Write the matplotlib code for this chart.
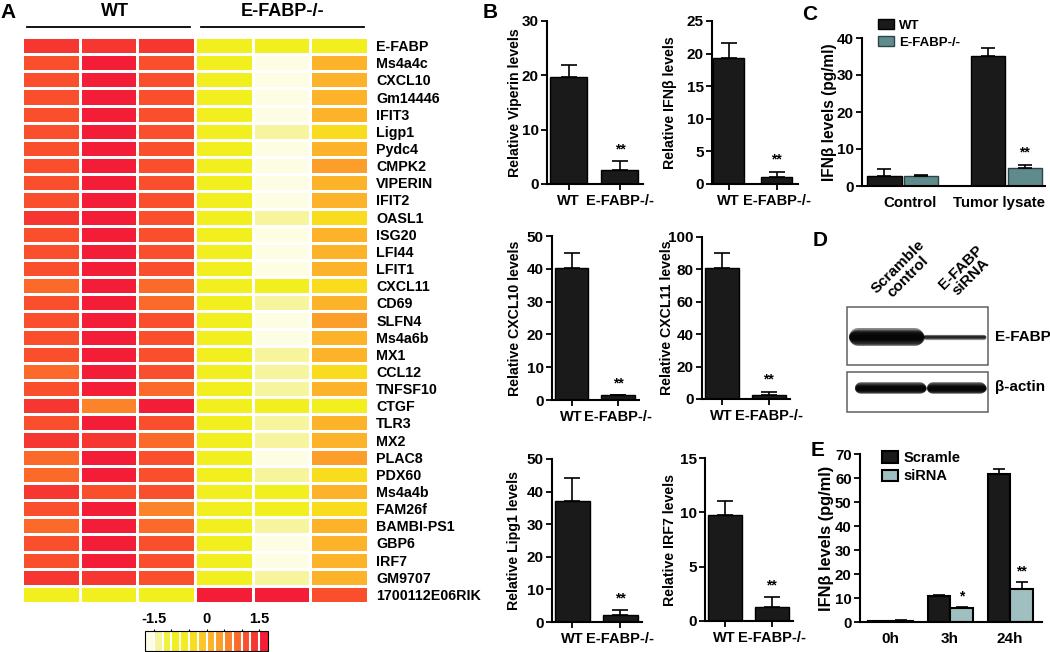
import numpy as np
import matplotlib
matplotlib.use("Agg")
import matplotlib.pyplot as plt
from matplotlib.colors import ListedColormap, BoundaryNorm
from matplotlib.cm import ScalarMappable
from matplotlib.lines import Line2D
from matplotlib.patches import Rectangle

plt.rcParams["font.family"] = ["Liberation Sans", "DejaVu Sans"]
plt.rcParams["font.weight"] = "bold"
plt.rcParams["axes.labelweight"] = "bold"

W, H = 1050, 652

# ---------------- data ----------------
# A: heatmap (z-scores), 3 WT replicates and 3 E-FABP-/- replicates
genes = ["E-FABP", "Ms4a4c", "CXCL10", "Gm14446", "IFIT3", "Ligp1", "Pydc4", "CMPK2",
         "VIPERIN", "IFIT2", "OASL1", "ISG20", "LFI44", "LFIT1", "CXCL11", "CD69",
         "SLFN4", "Ms4a6b", "MX1", "CCL12", "TNFSF10", "CTGF", "TLR3", "MX2", "PLAC8",
         "PDX60", "Ms4a4b", "FAM26f", "BAMBI-PS1", "GBP6", "IRF7", "GM9707",
         "1700112E06RIK"]
wt_z = [[1.3, 1.3, 1.3], [1.1, 1.6, 1.1], [1.1, 1.6, 1.1], [1.1, 1.6, 1.1],
        [1.1, 1.6, 1.1], [1.1, 1.6, 1.1], [1.1, 1.6, 1.1], [1.1, 1.6, 1.1],
        [1.1, 1.6, 1.1], [1.1, 1.6, 1.1], [1.3, 1.6, 1.1], [1.1, 1.6, 1.1],
        [1.1, 1.6, 1.1], [1.1, 1.6, 1.1], [0.9, 1.6, 0.9], [1.1, 1.6, 0.9],
        [1.1, 1.6, 1.1], [1.1, 1.6, 1.1], [1.1, 1.6, 1.1], [0.9, 1.6, 1.1],
        [1.1, 1.6, 0.9], [1.3, 0.6, 1.6], [1.1, 1.6, 1.1], [1.3, 1.3, 0.9],
        [0.9, 1.6, 1.1], [0.9, 1.6, 1.1], [1.3, 1.1, 1.1], [1.1, 1.6, 0.6],
        [0.9, 1.6, 0.9], [1.1, 1.6, 1.1], [1.1, 1.6, 1.1], [1.3, 1.3, 1.1],
        [-0.9, -0.9, -0.9]]
ko_z = [[-0.9, -0.9, -0.9], [-0.9, -1.6, 0.1], [-0.9, -1.6, 0.1], [-0.9, -1.6, 0.1],
        [-0.9, -1.6, 0.1], [-0.9, -1.4, -0.4], [-0.9, -1.6, 0.1], [-0.9, -1.6, 0.4],
        [-0.9, -1.6, 0.1], [-0.9, -1.6, 0.1], [-0.9, -1.4, -0.4], [-0.9, -1.6, 0.1],
        [-0.9, -1.6, 0.1], [-0.9, -1.6, 0.1], [-0.9, -0.9, -0.4], [-0.9, -1.4, 0.1],
        [-0.9, -1.6, 0.4], [-0.9, -1.6, 0.1], [-0.9, -1.4, 0.1], [-0.9, -1.4, -0.4],
        [-0.9, -1.4, 0.1], [-0.9, -0.9, -0.9], [-0.9, -1.4, 0.1], [-0.9, -1.4, 0.1],
        [-0.9, -1.6, 0.4], [-0.9, -1.4, -0.4], [-0.9, -0.9, 0.1], [-0.9, -0.9, -0.4],
        [-0.9, -1.4, 0.1], [-0.9, -1.6, 0.1], [-0.9, -1.6, 0.1], [-0.9, -1.4, 0.1],
        [1.6, 1.6, 1.1]]

# B: relative mRNA levels (WT, E-FABP-/-)
b_groups = ["WT", "E-FABP-/-"]
viperin_mean = [19.7, 2.6]
viperin_err = [2.2, 1.6]
ifnb_mean = [19.4, 1.1]
ifnb_err = [2.3, 0.8]
cxcl10_mean = [40.1, 1.5]
cxcl10_err = [4.8, 0.0]
cxcl11_mean = [80.7, 2.5]
cxcl11_err = [9.6, 2.0]
lipg1_mean = [37.2, 2.1]
lipg1_err = [6.9, 1.6]
irf7_mean = [9.8, 1.3]
irf7_err = [1.2, 0.9]

# C: IFNb ELISA
c_groups = ["Control", "Tumor lysate"]
c_wt_mean = [2.8, 35.1]
c_wt_err = [1.7, 2.2]
c_ko_mean = [2.8, 4.8]
c_ko_err = [0.2, 0.8]

# D: western blot band strength (Scramble control, E-FABP siRNA)
blot_lanes = ["Scramble\ncontrol", "E-FABP\nsiRNA"]
efabp_band = [1.0, 0.3]
actin_band = [0.85, 0.85]

# E: IFNb after knock-down
e_times = ["0h", "3h", "24h"]
e_scr_mean = [0.4, 10.8, 61.6]
e_scr_err = [0.1, 0.4, 2.3]
e_sirna_mean = [0.6, 5.8, 13.7]
e_sirna_err = [0.2, 0.4, 3.0]
e_stars = ["", "*", "**"]

heat_colors = ["#fdfde4", "#f6f49c", "#f2f03a", "#f1ef1e", "#f3ec1e", "#f9dc1e", "#fcc626",
               "#fcb32a", "#fb9e2a", "#fb842a", "#fb6a2a", "#f94f2c", "#f63630", "#f31d38"]

fig = plt.figure(figsize=(W / 100, H / 100), dpi=100)


def px_axes(left, top, right, bottom):
    return fig.add_axes([left / W, 1 - bottom / H, (right - left) / W, (bottom - top) / H])


def prism_style(ax, size):
    for side in ["top", "right"]:
        ax.spines[side].set_visible(False)
    for side in ["left", "bottom"]:
        ax.spines[side].set_linewidth(1.5)
    ax.tick_params(axis="both", direction="out", length=4, width=1.3, labelsize=size, pad=2)


# ---------------- A: heatmap ----------------
cmap = ListedColormap(heat_colors)
norm = BoundaryNorm(np.linspace(-1.75, 1.75, 15), cmap.N)
data = np.hstack([np.array(wt_z), np.array(ko_z)])

ax = px_axes(22, 37, 368, 603)
ax.pcolormesh(data, cmap=cmap, norm=norm, edgecolors="white", linewidth=0.8)
ax.set_xlim(0, 6)
ax.set_ylim(len(genes), 0)
ax.yaxis.tick_right()
ax.set_yticks(np.arange(len(genes)) + 0.5, genes)
ax.tick_params(axis="y", length=0, pad=6, labelsize=10.3)
ax.set_xticks([])
for s in ax.spines.values():
    s.set_visible(False)

fig.text(115 / W, 1 - 12 / H, "WT", ha="center", va="center", fontsize=13)
fig.text(283 / W, 1 - 12 / H, "E-FABP-/-", ha="center", va="center", fontsize=13)
fig.add_artist(Line2D([27 / W, 190 / W], [1 - 27 / H] * 2, color="black", lw=1.3))
fig.add_artist(Line2D([201 / W, 364 / W], [1 - 27 / H] * 2, color="black", lw=1.3))

cax = px_axes(145, 631, 268, 651)
cb = fig.colorbar(ScalarMappable(norm=norm, cmap=cmap), cax=cax, orientation="horizontal",
                  drawedges=True)
cb.dividers.set_color("white")
cb.dividers.set_linewidth(1.5)
cb.outline.set_linewidth(0.8)
cax.xaxis.set_ticks_position("top")
cb.set_ticks([-1.5, 0, 1.5], labels=["-1.5", "0", "1.5"])
cax.set_xticks(np.arange(-1.5, 1.6, 0.5), minor=True)
cax.tick_params(which="both", direction="inout", length=3, width=0.8, labelsize=10.5, pad=2)


# ---------------- B: six small bar charts ----------------
def bar_panel(box, means, errs, ymax, ystep, ylabel, label_x, xlim=(-0.42, 1.45), width=0.72):
    ax = px_axes(*box)
    x = np.arange(len(means))
    ax.bar(x, means, width=width, color="#1a1a1a", edgecolor="black", linewidth=1)
    ax.errorbar(x, means, yerr=[np.zeros(len(errs)), errs], fmt="none", ecolor="black",
                elinewidth=1.2, capsize=6, capthick=1.2)
    ax.text(x[1], means[1] + errs[1] + ymax * 0.03, "**", ha="center", va="bottom", fontsize=10)
    ax.set_xlim(*xlim)
    ax.set_ylim(0, ymax)
    ax.set_yticks(np.arange(0, ymax + 1, ystep))
    ax.set_xticks(x, b_groups)
    prism_style(ax, 11)
    ax.tick_params(axis="x", labelsize=10.5, pad=3)
    ax.set_ylabel(ylabel, fontsize=10.2)
    ax.yaxis.set_label_coords((label_x - box[0]) / (box[2] - box[0]), 0.5)
    return ax


bar_panel((547, 21, 643, 184), viperin_mean, viperin_err, 30, 10, "Relative Viperin levels", 522)
bar_panel((712, 21, 798, 184), ifnb_mean, ifnb_err, 25, 5, "Relative IFNβ levels", 677,
          xlim=(-0.35, 1.45), width=0.65)
bar_panel((552, 236, 639, 400), cxcl10_mean, cxcl10_err, 50, 10, "Relative CXCL10 levels", 522)
bar_panel((702, 237, 790, 399), cxcl11_mean, cxcl11_err, 100, 20, "Relative CXCL11 levels", 674)
bar_panel((552, 459, 642, 622), lipg1_mean, lipg1_err, 50, 10, "Relative Lipg1 levels", 521)
bar_panel((705, 458, 793, 621), irf7_mean, irf7_err, 15, 5, "Relative IRF7 levels", 677)

# ---------------- C: grouped bars ----------------
box = (862, 38, 1045, 186)
ax = px_axes(*box)
x = np.arange(len(c_groups))
ax.bar(x - 0.175, c_wt_mean, width=0.33, color="#1a1a1a", edgecolor="black", lw=1, label="WT")
ax.bar(x + 0.175, c_ko_mean, width=0.33, color="#5f8b8c", edgecolor="#2e4444", lw=1,
       label="E-FABP-/-")
ax.errorbar(x - 0.175, c_wt_mean, yerr=[np.zeros(2), c_wt_err], fmt="none", ecolor="black",
            elinewidth=1.2, capsize=5, capthick=1.2)
ax.errorbar(x + 0.175, c_ko_mean, yerr=[np.zeros(2), c_ko_err], fmt="none", ecolor="black",
            elinewidth=1.2, capsize=5, capthick=1.2)
ax.text(1.175, c_ko_mean[1] + c_ko_err[1] + 1.5, "**", ha="center", va="bottom", fontsize=10)
ax.set_xlim(-0.39, 1.37)
ax.set_ylim(0, 40)
ax.set_yticks([0, 10, 20, 30, 40])
ax.set_xticks([0.07, 0.93], c_groups)
prism_style(ax, 11)
ax.tick_params(axis="x", length=0, pad=7, labelsize=10.8)
ax.set_ylabel("IFNβ levels (pg/ml)", fontsize=11.2)
ax.yaxis.set_label_coords((837 - box[0]) / (box[2] - box[0]), 0.5)
ax.legend(loc="upper left", bbox_to_anchor=(878 / W, 1 - 19 / H), bbox_transform=fig.transFigure,
          frameon=False, fontsize=9.5, handlelength=1.2, handleheight=0.8, handletextpad=0.4,
          labelspacing=0.35, borderpad=0, borderaxespad=0)

# ---------------- D: western blot ----------------
ax = px_axes(845, 305, 990, 414)
ax.set_xlim(845, 990)
ax.set_ylim(414, 305)
ax.axis("off")
ax.add_patch(Rectangle((847, 307), 141, 58, fill=False, edgecolor="#606060", lw=1.1))
ax.add_patch(Rectangle((847, 372), 141, 40, fill=False, edgecolor="#606060", lw=1.1))


def draw_band(ax, x0, x1, y, thick, strength):
    # stacked translucent strokes give the band soft, tapered edges
    for k in range(6):
        t = thick * (1 - k / 7)
        ax.plot([x0 + t / 2, x1 - t / 2], [y, y], color="black", lw=t * 0.72,
                solid_capstyle="round", alpha=0.45 * min(1, strength + 0.3))


for (x0, x1), s in zip([(849, 924), (923, 986)], efabp_band):
    draw_band(ax, x0, x1, 337, 18 * s, s)
for (x0, x1), s in zip([(855, 926), (927, 986)], actin_band):
    draw_band(ax, x0, x1, 388, 14 * s, s)
ax.text(995, 337, "E-FABP", ha="left", va="center", fontsize=11, clip_on=False)
ax.text(995, 387, "β-actin", ha="left", va="center", fontsize=11, clip_on=False)
for lx, label in zip([903, 966], blot_lanes):
    ax.text(lx, 272, label, rotation=45, ha="center", va="center", multialignment="center",
            fontsize=11, linespacing=1.0, clip_on=False)

# ---------------- E: grouped bars ----------------
box = (860, 454, 1042, 622)
ax = px_axes(*box)
x = np.arange(len(e_times))
ax.bar(x - 0.19, e_scr_mean, width=0.37, color="#1a1a1a", edgecolor="black", lw=1.5,
       label="Scramle")
ax.bar(x + 0.19, e_sirna_mean, width=0.37, color="#a0bfc0", edgecolor="black", lw=1.5,
       label="siRNA")
ax.errorbar(x - 0.19, e_scr_mean, yerr=[np.zeros(3), e_scr_err], fmt="none", ecolor="black",
            elinewidth=1.2, capsize=4, capthick=1.2)
ax.errorbar(x + 0.19, e_sirna_mean, yerr=[np.zeros(3), e_sirna_err], fmt="none", ecolor="black",
            elinewidth=1.2, capsize=4, capthick=1.2)
for xi, m, e, s in zip(x, e_sirna_mean, e_sirna_err, e_stars):
    if s:
        ax.text(xi + 0.19, m + e + 1.5, s, ha="center", va="bottom", fontsize=10)
ax.set_xlim(-0.5, 2.53)
ax.set_ylim(0, 70)
ax.set_yticks(np.arange(0, 71, 10))
ax.set_xticks(x, e_times)
prism_style(ax, 10.8)
ax.tick_params(axis="x", length=0, pad=7, labelsize=11)
ax.set_ylabel("IFNβ levels (pg/ml)", fontsize=11.8)
ax.yaxis.set_label_coords((834 - box[0]) / (box[2] - box[0]), 0.5)
ax.legend(loc="upper left", bbox_to_anchor=(882 / W, 1 - 451 / H), bbox_transform=fig.transFigure,
          frameon=False, fontsize=10.5, handlelength=1.1, handleheight=0.8, handletextpad=0.4,
          labelspacing=0.3, borderpad=0, borderaxespad=0)

# panel letters
for lx, ly, letter in [(8, 12, "A"), (490, 12, "B"), (810, 15, "C"), (820, 240, "D"),
                       (818, 450, "E")]:
    fig.text(lx / W, 1 - ly / H, letter, ha="center", va="center", fontsize=15)

fig.savefig("out.png", dpi=100)
